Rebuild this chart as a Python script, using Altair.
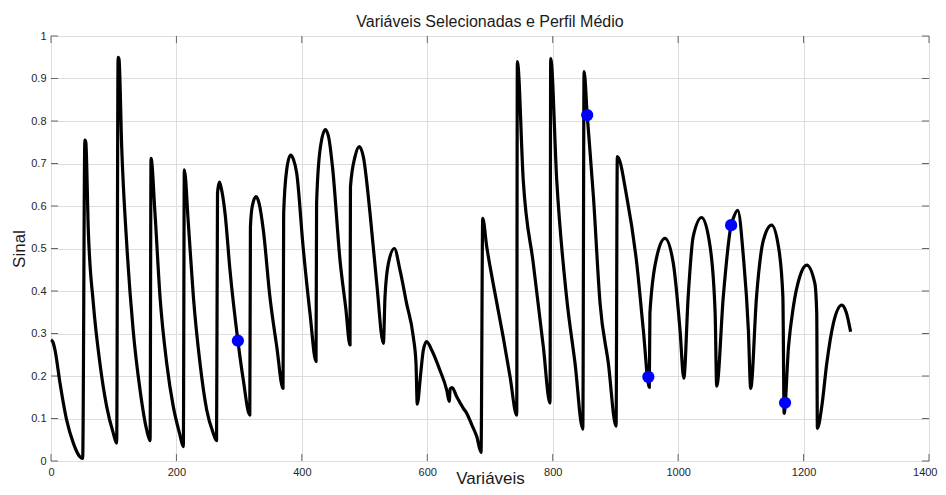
import altair as alt
import pandas as pd

# Mean profile (x = variable index, y = signal)
profile_x = [0, 3, 6.4, 14.4, 25, 35.6, 46, 50.5,
             54, 55.5, 59.5, 67.5, 78, 88.8, 99.4, 104.7,
             107, 108.5, 112.7, 120.7, 131, 142, 152.6, 158,
             159.5, 165.8, 173.8, 184.5, 195, 205, 211,
             212.6, 219, 227, 237.6, 248.3, 258.8, 264,
             265.5, 268.5, 271, 277.5, 285.4, 298, 306.7, 317,
             318, 321, 327, 332, 338.6, 349, 360, 370,
             371, 375.8, 382, 386.5, 391.8, 402, 413, 422.6,
             423.5, 429, 437.5, 443, 449, 461, 470, 476.8,
             477.5, 484.8, 491.7, 498, 508.7, 519.4, 530,
             532.6, 538, 547.5, 556.5, 567, 577.7, 582, 584,
             589.5, 593.7, 599, 607, 620, 631, 635, 636.5, 639.5, 647, 657.5, 663, 671, 679, 685.7,
             688.4, 694.8, 705, 721, 732, 742.6,
             743.6, 753, 769, 785, 795.7,
             796.8, 806.4, 822, 835.6, 848,
             850, 855, 865, 875.5, 888.7, 901,
             903, 918, 934, 944.5, 954,
             955, 966, 979, 992.3, 1003, 1009,
             1016, 1024, 1037.6, 1051, 1059, 1061.5,
             1072, 1084.5, 1088, 1095, 1104, 1112, 1115.7,
             1125, 1136, 1149, 1160, 1167, 1169,
             1176, 1183.7, 1194, 1205, 1218, 1221, 1222,
             1229, 1237, 1247.5, 1261, 1268, 1275]
profile_y = [0.285, 0.28, 0.261, 0.183, 0.096, 0.042, 0.01, 0.006,
             0.755, 0.75, 0.543, 0.371, 0.23, 0.128, 0.065, 0.042,
             0.95, 0.945, 0.74, 0.512, 0.308, 0.167, 0.073, 0.048,
             0.712, 0.583, 0.387, 0.23, 0.128, 0.065, 0.034,
             0.685, 0.559, 0.387, 0.23, 0.12, 0.065, 0.048,
             0.63, 0.656, 0.645, 0.583, 0.449, 0.283, 0.19, 0.108,
             0.551, 0.6, 0.622, 0.605, 0.543, 0.387, 0.269, 0.171,
             0.583, 0.685, 0.72, 0.71, 0.677, 0.504, 0.347, 0.234,
             0.606, 0.732, 0.78, 0.76, 0.69, 0.47, 0.36, 0.273,
             0.645, 0.716, 0.74, 0.716, 0.583, 0.418, 0.277,
             0.387, 0.465, 0.5, 0.449, 0.371, 0.292, 0.23, 0.134,
             0.206, 0.261, 0.281, 0.261, 0.214, 0.167, 0.14, 0.17, 0.173, 0.151, 0.124, 0.112, 0.085, 0.057, 0.02,
             0.571, 0.504, 0.418, 0.292, 0.198, 0.108,
             0.94, 0.661, 0.465, 0.269, 0.136,
             0.947, 0.661, 0.387, 0.23, 0.075,
             0.916, 0.814, 0.62, 0.371, 0.23, 0.082,
             0.716, 0.622, 0.465, 0.308, 0.173,
             0.348, 0.481, 0.524, 0.465, 0.308, 0.195,
             0.387, 0.528, 0.573, 0.504, 0.347, 0.176,
             0.387, 0.555, 0.571, 0.59, 0.481, 0.308, 0.171,
             0.387, 0.52, 0.555, 0.504, 0.387, 0.112,
             0.269, 0.363, 0.434, 0.461, 0.418, 0.347, 0.077,
             0.128, 0.23, 0.324, 0.367, 0.35, 0.304]

# Selected variables
sel_x = [298, 855, 952.5, 1084.5, 1170.5]
sel_y = [0.283, 0.814, 0.198, 0.555, 0.137]

x_ticks = [0, 200, 400, 600, 800, 1000, 1200, 1400]
y_ticks = [0, 0.1, 0.2, 0.3, 0.4, 0.5, 0.6, 0.7, 0.8, 0.9, 1]

chart_title = ["Variáveis Selecionadas e Perfil Médio"]

W, H = 878, 425
FONT = "Liberation Sans"
TICK_LEN = 7

df_line = pd.DataFrame({"x": profile_x, "y": profile_y, "i": range(len(profile_x))})
df_sel = pd.DataFrame({"x": sel_x, "y": sel_y})
df_xt = pd.DataFrame({"t": x_ticks})
df_yt = pd.DataFrame({"t": y_ticks})
df_title = pd.DataFrame({"label": chart_title})

xscale = alt.Scale(domain=[0, 1400], nice=False, zero=False)
yscale = alt.Scale(domain=[0, 1], nice=False, zero=False)

last_x = x_ticks[-1]
x_axis = alt.Axis(values=x_ticks, title="Variáveis", grid=True, tickSize=0, domain=False,
                  format="d",
                  labelAlign={"condition": {"test": f"datum.value == {last_x}", "value": "right"},
                              "value": "center"},
                  labelOffset={"condition": {"test": f"datum.value == {last_x}", "value": 8},
                               "value": 0},
                  labelPadding=5, labelFontSize=11, labelFont=FONT, labelColor="#262626",
                  titleFont=FONT, titleFontSize=17, titleFontWeight="normal", titleColor="#1a1a1a",
                  titleBaseline="alphabetic", titleY=22, labelFlush=False)
y_axis = alt.Axis(values=y_ticks, title="Sinal", grid=True, tickSize=0, domain=False,
                  labelPadding=5, labelFontSize=11, labelFont=FONT, labelColor="#262626",
                  titleFont=FONT, titleFontSize=17, titleFontWeight="normal", titleColor="#1a1a1a",
                  titleAngle=270, titleBaseline="middle", titleAlign="center",
                  titleX=-32, titleY=H / 2, labelFlush=False,
                  labelExpr="datum.value == 0 ? '0' : datum.value == 1 ? '1' : format(datum.value, '.1f')")

base_x = alt.X("x:Q", scale=xscale, axis=x_axis)
base_y = alt.Y("y:Q", scale=yscale, axis=y_axis)

line = alt.Chart(df_line).mark_line(color="black", strokeWidth=3.2, strokeJoin="round",
                                    interpolate="monotone").encode(
    x=base_x, y=base_y, order="i:Q")

dots = alt.Chart(df_sel).mark_circle(color="#0000ff", opacity=1, size=150).encode(
    x=alt.X("x:Q", scale=xscale), y=alt.Y("y:Q", scale=yscale))

tick_color = "#666666"
xt_bottom = alt.Chart(df_xt).mark_rule(color=tick_color, strokeWidth=1).encode(
    x=alt.X("t:Q", scale=xscale), y=alt.value(H), y2=alt.value(H - TICK_LEN))
xt_top = alt.Chart(df_xt).mark_rule(color=tick_color, strokeWidth=1).encode(
    x=alt.X("t:Q", scale=xscale), y=alt.value(0), y2=alt.value(TICK_LEN))
yt_left = alt.Chart(df_yt).mark_rule(color=tick_color, strokeWidth=1).encode(
    y=alt.Y("t:Q", scale=yscale), x=alt.value(0), x2=alt.value(TICK_LEN))
yt_right = alt.Chart(df_yt).mark_rule(color=tick_color, strokeWidth=1).encode(
    y=alt.Y("t:Q", scale=yscale), x=alt.value(W), x2=alt.value(W - TICK_LEN))

title = alt.Chart(df_title).mark_text(font=FONT, fontSize=16, color="#1a1a1a",
                                      baseline="alphabetic", align="center").encode(
    text="label:N", x=alt.value(W / 2), y=alt.value(-9))

chart = alt.layer(xt_bottom, xt_top, yt_left, yt_right, line, dots, title).properties(
    width=W, height=H,
    autosize=alt.AutoSizeParams(type="none"),
    padding={"left": 43, "top": 28, "right": 9, "bottom": 26},
).configure_view(stroke="#7f7f7f", strokeWidth=1).configure_axis(
    gridColor="#e4e4e4", gridWidth=1
).configure(background="white")

chart.save("out.html", embed_options={"renderer": "svg", "actions": False})
